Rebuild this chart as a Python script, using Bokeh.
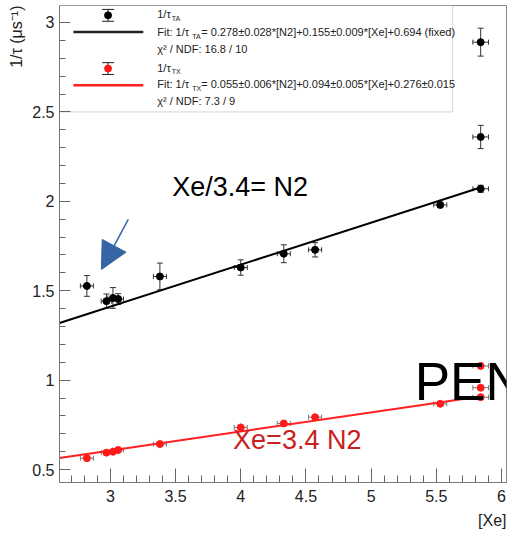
from bokeh.plotting import figure
from bokeh.models import (Range1d, SingleIntervalTicker, Whisker, TeeHead, ColumnDataSource,
                          Label, BoxAnnotation, Arrow, NormalHead, CustomJSTickFormatter, Title)
from bokeh.embed import file_html
from bokeh.resources import INLINE

# ---------------- data ----------------
xe      = [2.82, 2.97, 3.02, 3.06, 3.38, 4.00, 4.33, 4.57, 5.53, 5.84, 5.84, 5.84]
xe_err  = [0.05, 0.04, 0.04, 0.04, 0.05, 0.05, 0.05, 0.05, 0.05, 0.06, 0.06, 0.06]
tau_ta  = [1.527, 1.442, 1.460, 1.454, 1.58, 1.63, 1.707, 1.729, 1.98, 2.07, 2.36, 2.89]
ta_err  = [0.058, 0.040, 0.058, 0.030, 0.075, 0.043, 0.050, 0.040, 0.015, 0.020, 0.065, 0.078]
tau_tx  = [0.564, 0.595, 0.600, 0.610, 0.643, 0.736, 0.758, 0.793, 0.868, 0.905, 0.958, 1.080]
tx_err  = [0.010, 0.010, 0.010, 0.010, 0.010, 0.010, 0.010, 0.010, 0.010, 0.010, 0.010, 0.010]

fit_x   = [2.61, 5.85]
fit_ta  = [1.320, 2.080]
fit_tx  = [0.565, 0.910]

tick_interval = 0.5
legend_ta = ["1/τ", "TA", "Fit: 1/τ", "TA", "= 0.278±0.028*[N2]+0.155±0.009*[Xe]+0.694 (fixed)", "χ² / NDF: 16.8 / 10"]
legend_tx = ["1/τ", "TX", "Fit: 1/τ", "TX", "= 0.055±0.006*[N2]+0.094±0.005*[Xe]+0.276±0.015", "χ² / NDF: 7.3 / 9"]

X0, X1 = 2.61, 6.038
Y0, Y1 = 0.428, 3.095

# reference-pixel -> data helpers (for placing annotations only)
def rx(px):
    return 3 + (px - 109) / 130.67

def ry(py):
    return 0.5 + (476 - py) / 181.5

FONT = "Liberation Sans"
TXT = "#222222"

p = figure(width=508, height=533, output_backend="svg", toolbar_location=None,
           x_range=Range1d(X0, X1), y_range=Range1d(Y0, Y1),
           min_border_left=58, min_border_right=2, min_border_top=5, min_border_bottom=44)
p.xgrid.visible = False
p.ygrid.visible = False
p.outline_line_color = "#888888"
p.background_fill_color = "white"
p.border_fill_color = "white"

fmt = CustomJSTickFormatter(code="return tick.toString();")
for ax, maj, mnr, stand in ((p.xaxis[0], 14, 7, 7), (p.yaxis[0], 11, 6, 5)):
    ax.ticker = SingleIntervalTicker(interval=tick_interval, num_minor_ticks=5)
    ax.formatter = fmt
    ax.major_tick_in = maj
    ax.major_tick_out = 0
    ax.minor_tick_in = mnr
    ax.minor_tick_out = 0
    ax.axis_line_color = "#777777"
    ax.major_tick_line_color = "#666666"
    ax.minor_tick_line_color = "#666666"
    ax.major_label_text_font = FONT
    ax.major_label_text_font_size = "16px"
    ax.major_label_text_color = TXT
    ax.major_label_standoff = stand

# axis titles (ROOT style: at the far end of each axis)
p.add_layout(Title(text="1/τ (μs⁻¹)", align="right", text_font=FONT, text_font_size="16px",
                   text_font_style="normal", text_color=TXT), "left")
p.add_layout(Title(text="[Xe]", align="right", text_font=FONT, text_font_size="16px",
                   text_font_style="normal", text_color=TXT), "below")

# legend box (underlay)
box = BoxAnnotation(left=X0, right=rx(452), top=Y1, bottom=ry(113), fill_color="white",
                    fill_alpha=1.0, line_color="#777777", line_width=1, level="underlay")
p.add_layout(box)

# fit lines
p.line(fit_x, fit_ta, line_color="black", line_width=2)
p.line(fit_x, fit_tx, line_color="#ff2020", line_width=2)

# error bars
lo = lambda v, e: [a - b for a, b in zip(v, e)]
hi = lambda v, e: [a + b for a, b in zip(v, e)]
src_ta = ColumnDataSource(dict(x=xe, y=tau_ta, yl=lo(tau_ta, ta_err), yu=hi(tau_ta, ta_err),
                               xl=lo(xe, xe_err), xu=hi(xe, xe_err)))
src_tx = ColumnDataSource(dict(x=xe, y=tau_tx, yl=lo(tau_tx, tx_err), yu=hi(tau_tx, tx_err),
                               xl=lo(xe, xe_err), xu=hi(xe, xe_err)))

def whiskers(src, col, capy, capx):
    p.add_layout(Whisker(source=src, base="x", lower="yl", upper="yu", dimension="height",
                         line_color=col, line_width=1,
                         lower_head=TeeHead(size=capy, line_color=col),
                         upper_head=TeeHead(size=capy, line_color=col)))
    p.add_layout(Whisker(source=src, base="y", lower="xl", upper="xu", dimension="width",
                         line_color=col, line_width=1,
                         lower_head=TeeHead(size=capx, line_color=col),
                         upper_head=TeeHead(size=capx, line_color=col)))

whiskers(src_ta, "#333333", 6, 5)
whiskers(src_tx, "#777777", 5, 5)

p.scatter("x", "y", source=src_ta, size=7, color="black")
p.scatter("x", "y", source=src_tx, size=7, color="#ff1a1a")

# ---- legend keys ----
key_ta = ColumnDataSource(dict(x=[rx(106.7)], y=[ry(15)], yl=[ry(21)], yu=[ry(9)]))
key_tx = ColumnDataSource(dict(x=[rx(106.7)], y=[ry(69)], yl=[ry(75)], yu=[ry(63)]))
for ks in (key_ta, key_tx):
    p.add_layout(Whisker(source=ks, base="x", lower="yl", upper="yu", dimension="height",
                         line_color="#222222", line_width=1,
                         lower_head=TeeHead(size=12, line_color="#222222"),
                         upper_head=TeeHead(size=12, line_color="#222222")))
p.scatter("x", "y", source=key_ta, size=7, color="black")
p.scatter("x", "y", source=key_tx, size=7, color="#ff1a1a")
p.line([rx(72), rx(142)], [ry(32), ry(32)], line_color="#222222", line_width=2.5)
p.line([rx(72), rx(142)], [ry(86), ry(86)], line_color="#ff2020", line_width=2.5)

def legend_block(txts, y_line1, y_fit, y_chi):
    lab, sub, fitl, fsub, rest, chi = txts
    items = [
        (156, y_line1, lab, "11px"), (170.5, y_line1 + 4, sub, "7px"),
        (156, y_fit, fitl, "11px"), (191, y_fit + 4, fsub, "7px"),
        (200, y_fit, rest, "11px"), (156, y_chi, chi, "11px"),
    ]
    for px, py, t, fs in items:
        p.add_layout(Label(x=rx(px), y=ry(py), text=t, text_font=FONT, text_font_size=fs,
                           text_baseline="middle", text_color=TXT))

legend_block(legend_ta, 14, 32, 49)
legend_block(legend_tx, 68, 85, 102)

# slide annotations
p.add_layout(Label(x=rx(171), y=ry(189.5), text="Xe/3.4= N2", text_font=FONT,
                   text_font_size="27px", text_color="black", text_baseline="alphabetic"))
p.add_layout(Label(x=rx(232), y=ry(445.5), text="Xe=3.4 N2", text_font=FONT,
                   text_font_size="27px", text_color="#c9211e", text_baseline="alphabetic"))
p.add_layout(Label(x=rx(414), y=ry(387), text="PEN", text_font=FONT,
                   text_font_size="53px", text_color="black", text_baseline="alphabetic"))

blue = "#3465a4"
p.add_layout(Arrow(x_start=rx(127), y_start=ry(222), x_end=rx(100), y_end=ry(273),
                   line_color=blue, line_width=1.5,
                   end=NormalHead(size=27, fill_color=blue, line_color=blue)))

open("out.html", "w").write(file_html(p, INLINE))
